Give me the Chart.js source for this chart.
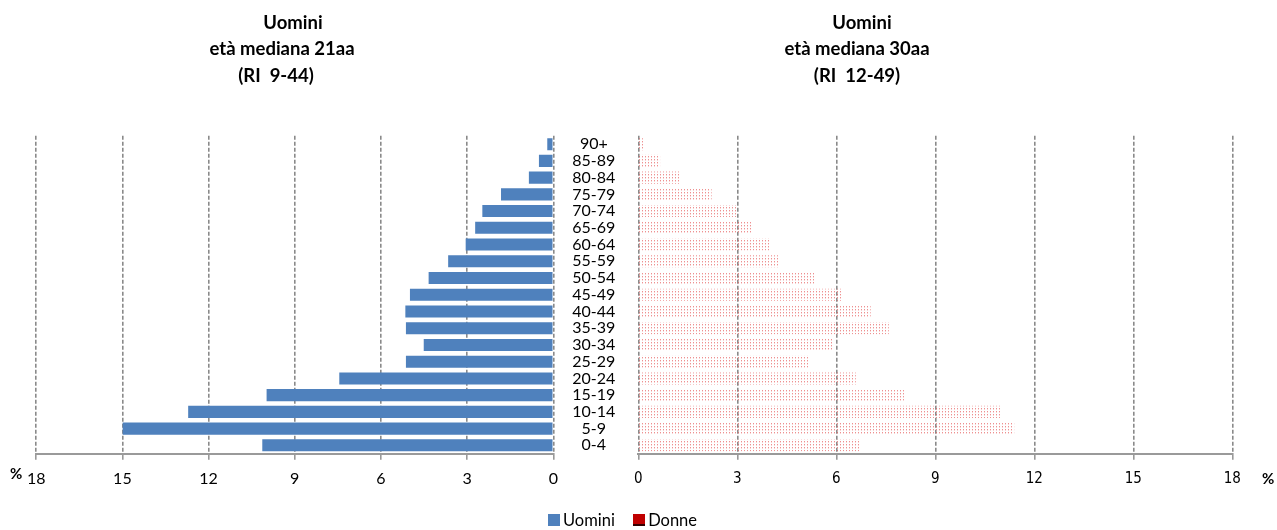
<!DOCTYPE html>
<html>
<head>
<meta charset="utf-8">
<script src="https://cdn.jsdelivr.net/npm/chart.js@4.4.1/dist/chart.umd.min.js"></script>
<style>
  html, body { margin: 0; padding: 0; background: #fff; }
  #wrap { position: relative; width: 1277px; height: 530px; overflow: hidden; font-family: Lato, "Open Sans", sans-serif; color: #000; }
  #wrap canvas { position: absolute; left: 0; top: 0; }
  .tl { position: absolute; font-weight: bold; font-size: 18.5px; line-height: 20px; white-space: nowrap; transform: translateX(-50%); }
  .pct { position: absolute; font-weight: bold; font-size: 15px; line-height: 15px; }
  #legend { position: absolute; top: 511px; left: 548px; font-size: 16.5px; line-height: 18px; white-space: nowrap; }
  #legend span.item { display: inline-flex; align-items: center; margin-right: 14px; }
  #legend i { display: inline-block; width: 12px; height: 12px; margin-right: 3px; }
</style>
</head>
<body>
<div id="wrap">
  <canvas id="left" width="1277" height="530"></canvas>
  <canvas id="right" width="1277" height="530"></canvas>
  <div class="tl" style="left:293px; top:12px">Uomini</div>
  <div class="tl" style="left:282px; top:38px">età mediana 21aa</div>
  <div class="tl" style="left:276px; top:65px">(RI&nbsp; 9-44)</div>
  <div class="tl" style="left:862px; top:12px">Uomini</div>
  <div class="tl" style="left:857px; top:38px">età mediana 30aa</div>
  <div class="tl" style="left:857px; top:65px">(RI&nbsp; 12-49)</div>
  <div class="pct" style="left:10px; top:466px">%</div>
  <div class="pct" style="left:1262px; top:471px">%</div>
  <div id="legend">
    <span class="item"><i style="background:#4F81BD"></i>Uomini</span>
    <span class="item"><i style="background:#C00000; border-bottom:2px solid #300; height:10px"></i>Donne</span>
  </div>
</div>
<script>
// Age classes, listed from the top of the pyramid down
const ageGroups = ['90+', '85-89', '80-84', '75-79', '70-74', '65-69', '60-64', '55-59', '50-54',
                   '45-49', '40-44', '35-39', '30-34', '25-29', '20-24', '15-19', '10-14', '5-9', '0-4'];

// Share of each age class (%)
const uomini = [0.21, 0.50, 0.85, 1.82, 2.47, 2.72, 3.05, 3.66, 4.34,
                4.99, 5.15, 5.13, 4.51, 5.13, 7.45, 9.98, 12.71, 14.99, 10.13];
const donne  = [0.20, 0.66, 1.29, 2.22, 2.96, 3.47, 3.99, 4.27, 5.35,
                6.15, 7.04, 7.59, 5.88, 5.17, 6.59, 8.05, 11.01, 11.39, 6.72];

// Axis ticks (%)
const xTicks = [0, 3, 6, 9, 12, 15, 18];

const W = 1277, H = 530;
const plotTop = 135.8, axisBand = 76.3;
const leftZero = 553.3, leftEnd = 36.2, ageColWidth = 85;
const rightZero = 638.3, rightEnd = 1232.3;

const sideFont = { family: 'Lato, "Open Sans", sans-serif', size: 16 };
const rightTickFont = { family: '"Liberation Sans Narrow", "DejaVu Sans Condensed", sans-serif', size: 15 };

function dottedFill(ctx) {
  const tile = document.createElement('canvas');
  tile.width = 3; tile.height = 3;
  const g = tile.getContext('2d');
  g.fillStyle = 'rgba(226,70,70,0.6)';
  g.fillRect(0, 0, 1, 1);
  g.fillStyle = 'rgba(236,130,130,0.35)';
  g.fillRect(0, 1, 1, 1);
  return ctx.createPattern(tile, 'repeat');
}

function xScale(reverse, font) {
  return {
    type: 'linear',
    reverse: reverse,
    min: xTicks[0],
    max: xTicks[xTicks.length - 1],
    afterBuildTicks(scale) { scale.ticks = xTicks.map(v => ({ value: v })); },
    ticks: { font: font, color: '#000', padding: 10, maxRotation: 0, autoSkip: false },
    grid: { color: '#8a8a8a', lineWidth: 1.6, tickLength: 6, tickColor: '#999', tickWidth: 1.6 },
    border: { display: true, color: '#9a9a9a', width: 2, dash: [4, 2] },
    afterFit(scale) { scale.height = axisBand; }
  };
}

const common = {
  indexAxis: 'y',
  responsive: false,
  animation: false,
  events: [],
  plugins: { legend: { display: false }, tooltip: { enabled: false } }
};

new Chart(document.getElementById('left'), {
  type: 'bar',
  data: {
    labels: ageGroups,
    datasets: [{
      label: 'Uomini',
      data: uomini,
      backgroundColor: '#4F81BD',
      borderWidth: 0,
      barPercentage: 0.72,
      categoryPercentage: 1
    }]
  },
  options: Object.assign({}, common, {
    layout: { padding: { left: leftEnd, right: W - leftZero - ageColWidth, top: plotTop, bottom: 0 } },
    scales: {
      x: xScale(true, sideFont),
      y: {
        position: 'right',
        grid: { display: false },
        border: { display: false },
        ticks: { crossAlign: 'center', padding: 11, font: sideFont, color: '#000', autoSkip: false },
        afterFit(scale) { scale.width = ageColWidth; }
      }
    }
  })
});

const rightCanvas = document.getElementById('right');
new Chart(rightCanvas, {
  type: 'bar',
  data: {
    labels: ageGroups,
    datasets: [{
      label: 'Donne',
      data: donne,
      backgroundColor: dottedFill(rightCanvas.getContext('2d')),
      borderWidth: 0,
      barPercentage: 0.72,
      categoryPercentage: 1
    }]
  },
  options: Object.assign({}, common, {
    layout: { padding: { left: rightZero, right: W - rightEnd, top: plotTop, bottom: 0 } },
    scales: {
      x: xScale(false, rightTickFont),
      y: { display: false }
    }
  })
});
</script>
</body>
</html>
